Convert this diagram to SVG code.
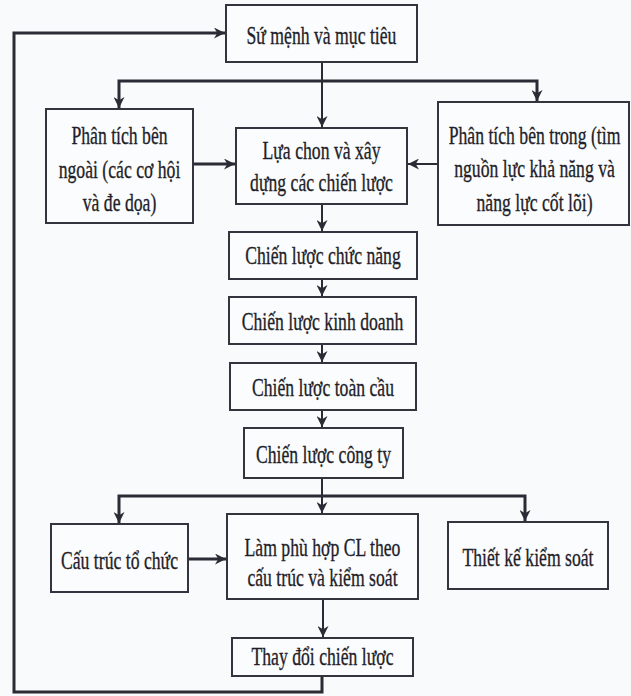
<svg xmlns="http://www.w3.org/2000/svg" width="631" height="696" viewBox="0 0 631 696">
<defs>
<style>
.bg{fill:#f8fafc}
.box{fill:#fbfcfd;stroke:#34343e;stroke-width:2}
.t{font-family:"Liberation Serif","Times New Roman",serif;font-size:26px;fill:#1f1f29;stroke:#1f1f29;stroke-width:0.35;text-anchor:middle}
.c{fill:none;stroke:#2b2b35;stroke-width:2}
.cb{fill:none;stroke:#2b2b35;stroke-width:3}
</style>
<marker id="ah" viewBox="0 0 10 10" refX="10" refY="5" markerWidth="11" markerHeight="11" markerUnits="userSpaceOnUse" orient="auto">
<path d="M0,0 L10,5 L0,10 L3,5 z" fill="#2b2b35"/>
</marker>
</defs>
<rect class="bg" x="0" y="0" width="631" height="696"/>

<g id="connectors">
<path class="c" d="M322,62 V127" marker-end="url(#ah)"/>
<path class="cb" d="M322,81 H119 V108" marker-end="url(#ah)"/>
<path class="cb" d="M322,81 H537 V101" marker-end="url(#ah)"/>
<path class="cb" d="M193,164 H235" marker-end="url(#ah)"/>
<path class="c" d="M438,164 H408" marker-end="url(#ah)"/>
<path class="c" d="M322,204 V231" marker-end="url(#ah)"/>
<path class="c" d="M322,279 V296" marker-end="url(#ah)"/>
<path class="c" d="M322,344 V362" marker-end="url(#ah)"/>
<path class="c" d="M322,410 V427" marker-end="url(#ah)"/>
<path class="c" d="M322,478 V513" marker-end="url(#ah)"/>
<path class="cb" d="M322,496 H119 V523" marker-end="url(#ah)"/>
<path class="cb" d="M322,496 H525 V521" marker-end="url(#ah)"/>
<path class="cb" d="M188,559 H226" marker-end="url(#ah)"/>
<path class="c" d="M323,599 V637" marker-end="url(#ah)"/>
<path class="cb" d="M322,676 V692 H14 V33 H225" marker-end="url(#ah)"/>
</g>

<g id="n1">
<rect class="box" x="226" y="5" width="191" height="57"/>
<text class="t" transform="translate(321.5,44) scale(0.68,1)">Sứ mệnh và mục tiêu</text>
</g>
<g id="n2">
<rect class="box" x="46" y="109" width="147" height="114"/>
<text class="t" transform="translate(119.5,144) scale(0.68,1)">Phân tích bên</text>
<text class="t" transform="translate(119.5,178) scale(0.68,1)">ngoài (các cơ hội</text>
<text class="t" transform="translate(119.5,211) scale(0.68,1)">và đe dọa)</text>
</g>
<g id="n3">
<rect class="box" x="236" y="128" width="171" height="76"/>
<text class="t" transform="translate(321.5,159) scale(0.68,1)">Lựa chon và xây</text>
<text class="t" transform="translate(321.5,191) scale(0.68,1)">dựng các chiến lược</text>
</g>
<g id="n4">
<rect class="box" x="438" y="102" width="191" height="123"/>
<text class="t" transform="translate(534.5,144) scale(0.68,1)">Phân tích bên trong (tìm</text>
<text class="t" transform="translate(534.5,177) scale(0.68,1)">nguồn lực khả năng và</text>
<text class="t" transform="translate(534.5,211) scale(0.68,1)">năng lực cốt lõi)</text>
</g>
<g id="n5">
<rect class="box" x="229" y="232" width="188" height="47"/>
<text class="t" transform="translate(323,264) scale(0.68,1)">Chiến lược chức năng</text>
</g>
<g id="n6">
<rect class="box" x="229" y="297" width="187" height="47"/>
<text class="t" transform="translate(322.5,330) scale(0.68,1)">Chiến lược kinh doanh</text>
</g>
<g id="n7">
<rect class="box" x="230" y="363" width="186" height="47"/>
<text class="t" transform="translate(323,396) scale(0.68,1)">Chiến lược toàn cầu</text>
</g>
<g id="n8">
<rect class="box" x="244" y="428" width="159" height="50"/>
<text class="t" transform="translate(323.5,463) scale(0.68,1)">Chiến lược công ty</text>
</g>
<g id="n9">
<rect class="box" x="51" y="524" width="137" height="68"/>
<text class="t" transform="translate(119.5,569) scale(0.68,1)">Cấu trúc tổ chức</text>
</g>
<g id="n10">
<rect class="box" x="227" y="514" width="191" height="85"/>
<text class="t" transform="translate(322.5,556) scale(0.68,1)">Làm phù hợp CL theo</text>
<text class="t" transform="translate(322.5,586) scale(0.68,1)">cấu trúc và kiểm soát</text>
</g>
<g id="n11">
<rect class="box" x="448" y="522" width="160" height="67"/>
<text class="t" transform="translate(528,566) scale(0.68,1)">Thiết kế kiểm soát</text>
</g>
<g id="n12">
<rect class="box" x="232" y="638" width="181" height="38"/>
<text class="t" transform="translate(322.5,665) scale(0.68,1)">Thay đổi chiến lược</text>
</g>
</svg>
